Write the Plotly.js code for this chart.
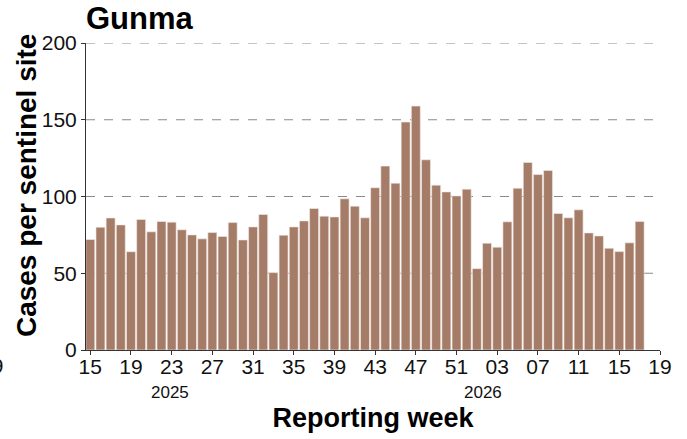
<!DOCTYPE html>
<html>
<head>
<meta charset="utf-8">
<script src="https://cdn.plot.ly/plotly-3.0.1.min.js"></script>
<style>html,body{margin:0;padding:0;background:#fff;}#chart{width:687px;height:439px;}</style>
</head>
<body>
<div id="chart"></div>
<script>
// Reporting weeks: 2025 week 15 to 2026 week 17
const weeks = [15,16,17,18,19,20,21,22,23,24,25,26,27,28,29,30,31,32,33,34,35,36,37,38,39,40,41,42,43,44,45,46,47,48,49,50,51,52,
               1,2,3,4,5,6,7,8,9,10,11,12,13,14,15,16,17];
const years = [2025,2025,2025,2025,2025,2025,2025,2025,2025,2025,2025,2025,2025,2025,2025,2025,2025,2025,2025,2025,2025,2025,2025,2025,2025,2025,2025,2025,2025,2025,2025,2025,2025,2025,2025,2025,2025,2025,
               2026,2026,2026,2026,2026,2026,2026,2026,2026,2026,2026,2026,2026,2026,2026,2026,2026];
const cases = [72,80,86,81.5,64,85,77,83.7,83.3,78.3,75,72.4,76.5,74,83,71.7,80.2,88.3,50.4,74.8,
               80.2,84.1,92.2,87.2,86.7,98.5,93.7,86.1,105.7,119.8,108.7,148.5,158.9,123.9,107.4,103,100.4,104.8,
               53,69.6,67,83.5,105.4,122.2,114.3,117,88.9,86.1,91.3,76.3,74.3,66.3,64.1,69.8,83.7];
const tickIndex = [0,4,8,12,16,20,24,28,32,36,40,44,48,52,56];
const tickLabels = ["15","19","23","27","31","35","39","43","47","51","03","07","11","15","19"];
const yTicks = [0,50,100,150,200];
const gridValues = [50,100,150,200];
const yearLabels = ["2025","2026"];

const xIdx = weeks.map((w,i)=>i);
const hoverText = weeks.map((w,i)=>years[i]+"-W"+String(w).padStart(2,"0"));

const trace = {
  type: "bar",
  x: xIdx,
  y: cases,
  text: hoverText,
  hovertemplate: "%{text}: %{y}<extra></extra>",
  textposition: "none",
  marker: {color: "#a57c67", line: {color: "#f3ece8", width: 0.6}},
  width: 0.88
};

const FF = "Liberation Sans, Arial, sans-serif";
const axisFont = {family: FF, size: 21, color: "#111"};

const gridShapes = gridValues.map(v => ({
  type: "line", xref: "paper", yref: "y", x0: 0, x1: 1, y0: v, y1: v,
  layer: "below", line: {color: "#8a8a8a", width: 1, dash: "dash"}
}));

const layout = {
  width: 687, height: 439,
  margin: {l: 86, r: 27, t: 43, b: 89},
  paper_bgcolor: "#ffffff",
  plot_bgcolor: "#ffffff",
  showlegend: false,
  bargap: 0.1,
  title: {
    text: "<b>Gunma</b>",
    font: {family: FF, size: 31, color: "#000"},
    x: 0, xanchor: "left", xref: "paper",
    y: 0.958, yanchor: "middle"
  },
  xaxis: {
    range: [-0.42, 56],
    tickmode: "array",
    tickvals: tickIndex,
    ticktext: tickLabels,
    tickfont: axisFont,
    ticks: "outside", ticklen: 4, tickcolor: "#333", tickwidth: 1,
    ticklabelstandoff: -6,
    showline: true, linecolor: "#333", linewidth: 1,
    showgrid: false, zeroline: false,
    layer: "above traces",
    title: {text: "<b>Reporting week</b>", font: {family: FF, size: 27, color: "#000"}, standoff: 30}
  },
  yaxis: {
    range: [0, 200],
    tickmode: "array",
    tickvals: yTicks,
    ticktext: yTicks.map(String),
    tickfont: axisFont,
    ticks: "outside", ticklen: 4, tickcolor: "#333", tickwidth: 1,
    showline: true, linecolor: "#333", linewidth: 1,
    showgrid: false,
    zeroline: false,
    layer: "above traces"
  },
  shapes: gridShapes,
  annotations: [
    {text: "<b>Cases per sentinel site</b>", textangle: -90, xref: "paper", yref: "paper",
     x: -0.1045, xanchor: "center", y: 0.534, yanchor: "middle", showarrow: false,
     font: {family: FF, size: 28, color: "#000"}},
    {text: yearLabels[0], xref: "x", yref: "paper", x: 7.8, y: -0.14, yanchor: "middle", showarrow: false,
     font: {family: FF, size: 17, color: "#111"}},
    {text: yearLabels[1], xref: "x", yref: "paper", x: 38.6, y: -0.14, yanchor: "middle", showarrow: false,
     font: {family: FF, size: 17, color: "#111"}},
    {text: tickLabels[1], xref: "paper", yref: "paper", x: -0.141, xanchor: "right", y: -0.05, yanchor: "middle", showarrow: false,
     font: axisFont}
  ]
};

Plotly.newPlot("chart", [trace], layout, {displayModeBar: false, staticPlot: true});
</script>
</body>
</html>
